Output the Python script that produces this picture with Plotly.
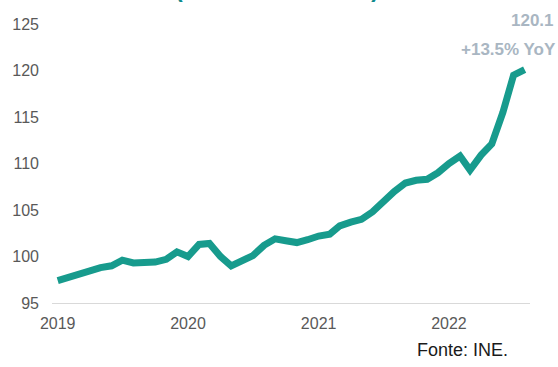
import pandas as pd
import plotly.graph_objects as go

# Monthly index values, Jan 2019 .. Aug 2022
months = pd.date_range("2019-01-01", periods=44, freq="MS")
values = [97.4, 97.8, 98.0, 98.4, 98.8, 99.0, 99.6, 99.3, 99.3, 99.4,
          99.7, 100.5, 100.0, 101.3, 101.4, 100.0, 99.0, 99.6, 100.1, 101.2,
          101.9, 101.7, 101.5, 101.8, 102.2, 102.4, 103.3, 103.7, 104.0, 104.8,
          105.9, 107.0, 107.9, 108.2, 108.3, 109.0, 110.0, 110.8, 109.3, 110.9,
          112.1, 115.5, 119.5, 120.1]
year_ticks = ["2019-01-01", "2020-01-01", "2021-01-01", "2022-01-01"]
year_labels = ["2019", "2020", "2021", "2022"]
y_ticks = [95, 100, 105, 110, 115, 120, 125]

title_text = "(Índice 2019 = 100)"
last_label = "120.1"
yoy_label = "+13.5% YoY"
source_label = "Fonte: INE."

FONT = "Arial, Liberation Sans, sans-serif"
LINE = "#179B8D"

fig = go.Figure()
fig.add_trace(go.Scatter(
    x=months, y=values, mode="lines",
    line=dict(color=LINE, width=7, shape="linear"),
    hoverinfo="skip", showlegend=False,
))

fig.update_layout(
    width=558, height=367,
    margin=dict(l=50, r=28, t=24, b=64),
    paper_bgcolor="white", plot_bgcolor="white",
    font=dict(family=FONT, color="#595959", size=16),
    xaxis=dict(
        range=["2018-12-16", "2022-08-16"],
        tickvals=year_ticks, ticktext=year_labels,
        showgrid=False, zeroline=False,
        showline=True, linecolor="#D9D9D9", linewidth=1.3,
        ticks="", ticklabelstandoff=6,
        tickfont=dict(size=16, color="#595959"),
    ),
    yaxis=dict(
        range=[95, 125], tickvals=y_ticks,
        showgrid=False, zeroline=False, showline=False,
        ticks="", ticklabelstandoff=12,
        tickfont=dict(size=16, color="#595959"),
    ),
    annotations=[
        dict(text="<b>%s</b>" % title_text, xref="paper", yref="paper",
             x=0.5 - 0.03, y=1.071, xanchor="center", yanchor="bottom",
             showarrow=False, font=dict(size=23, color="#0F8A8C", family=FONT)),
        dict(text="<b>%s</b>" % last_label, xref="paper", yref="paper",
             x=1.054, y=1.014, xanchor="right", yanchor="middle",
             showarrow=False, font=dict(size=17, color="#A9B6C2", family=FONT)),
        dict(text="<b>%s</b>" % yoy_label, xref="paper", yref="paper",
             x=1.058, y=0.907, xanchor="right", yanchor="middle",
             showarrow=False, font=dict(size=17, color="#A9B6C2", family=FONT)),
        dict(text=source_label, xref="paper", yref="paper",
             x=0.958, y=-0.168, xanchor="right", yanchor="middle",
             showarrow=False, font=dict(size=18, color="#1A1A1A", family=FONT)),
    ],
)

fig.write_html(
    "out.html",
    config={"displayModeBar": False},
    post_script="document.body.style.margin='0';document.body.style.overflow='hidden';",
)
